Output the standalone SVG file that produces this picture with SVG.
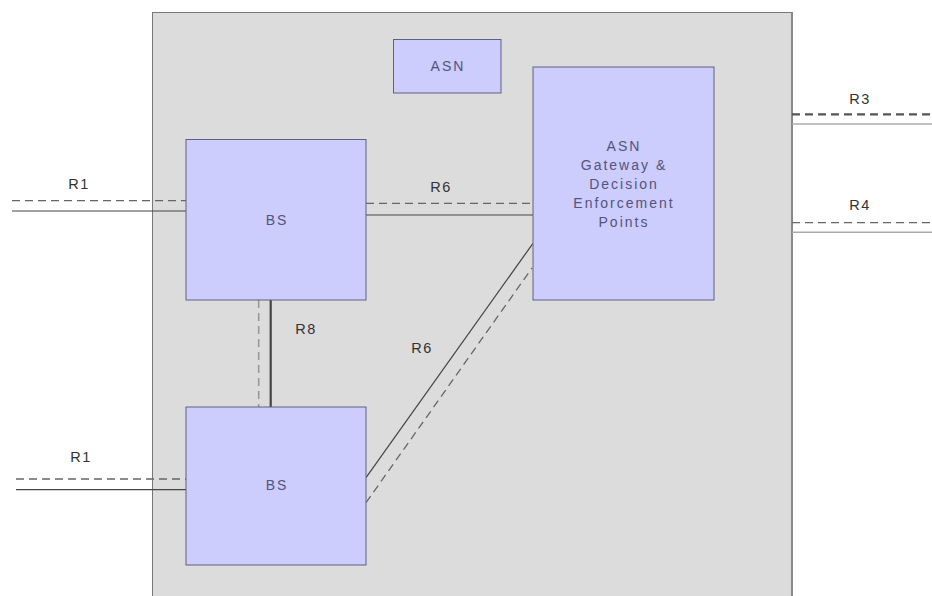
<svg xmlns="http://www.w3.org/2000/svg" width="932" height="596" viewBox="0 0 932 596">
<style>
.box{fill:#ccccfd;stroke:#5e6080;stroke-width:1}
.lbl{font-family:"Liberation Sans",Arial,sans-serif;font-size:14.5px;letter-spacing:1.5px;fill:#333;text-anchor:middle;dominant-baseline:central}
.nt{font-family:"Liberation Sans",Arial,sans-serif;font-size:14px;letter-spacing:2px;fill:#52547e;text-anchor:middle;dominant-baseline:central}
.dash{stroke:#666;stroke-width:1.3;stroke-dasharray:8 5;fill:none}
.ldash{stroke:#999;stroke-width:1.6;stroke-dasharray:8 5;fill:none}
.solid{stroke:#444;stroke-width:1.2;fill:none}
</style>
<rect width="932" height="596" fill="#fff"/>
<g id="asn-domain">
<rect x="152.5" y="12.5" width="639" height="600" fill="#dcdcdc" stroke="#777" stroke-width="1"/>
<line x1="792" y1="12" x2="792" y2="596" stroke="#888" stroke-width="2"/>
</g>
<g id="connectors">
<line class="dash" x1="12" y1="200.7" x2="186" y2="200.7"/>
<line class="solid" x1="12" y1="211" x2="186" y2="211"/>
<line class="dash" x1="16" y1="479" x2="186" y2="479"/>
<line class="solid" x1="16" y1="489.7" x2="186" y2="489.7"/>
<line class="dash" x1="366" y1="203.3" x2="533" y2="203.3"/>
<line class="solid" x1="366" y1="215" x2="533" y2="215"/>
<line class="dash" x1="366" y1="502.7" x2="532" y2="268"/>
<line class="solid" x1="366" y1="477.7" x2="533" y2="243.3"/>
<line class="ldash" x1="258.7" y1="300" x2="258.7" y2="407"/>
<line x1="270.7" y1="300" x2="270.7" y2="407" stroke="#444" stroke-width="2.2"/>
<line x1="792" y1="114.3" x2="932" y2="114.3" stroke="#555" stroke-width="2.2" stroke-dasharray="8 5"/>
<line x1="792" y1="124" x2="932" y2="124" stroke="#aaa" stroke-width="1.5"/>
<line class="dash" x1="792" y1="222.7" x2="932" y2="222.7"/>
<line x1="792" y1="232.3" x2="932" y2="232.3" stroke="#aaa" stroke-width="1.5"/>
<text class="lbl" x="79" y="184">R1</text>
<text class="lbl" x="81" y="457">R1</text>
<text class="lbl" x="441" y="187">R6</text>
<text class="lbl" x="422" y="348">R6</text>
<text class="lbl" x="306" y="329">R8</text>
<text class="lbl" x="860" y="99">R3</text>
<text class="lbl" x="860" y="205">R4</text>
</g>
<g id="asn-label">
<rect class="box" x="393.5" y="39.5" width="107.5" height="53.5"/>
<text class="nt" x="448" y="66">ASN</text>
</g>
<g id="gateway">
<rect class="box" x="533" y="67" width="181" height="233"/>
<text class="nt" x="624" y="145.5">ASN</text>
<text class="nt" x="624" y="164.5">Gateway &amp;</text>
<text class="nt" x="624" y="183.5">Decision</text>
<text class="nt" x="624" y="202.5">Enforcement</text>
<text class="nt" x="624" y="221.5">Points</text>
</g>
<g id="bs-top">
<rect class="box" x="186" y="139.5" width="180" height="160.5"/>
<text class="nt" x="277" y="220">BS</text>
</g>
<g id="bs-bottom">
<rect class="box" x="186" y="407" width="180" height="158"/>
<text class="nt" x="277" y="485">BS</text>
</g>
</svg>
